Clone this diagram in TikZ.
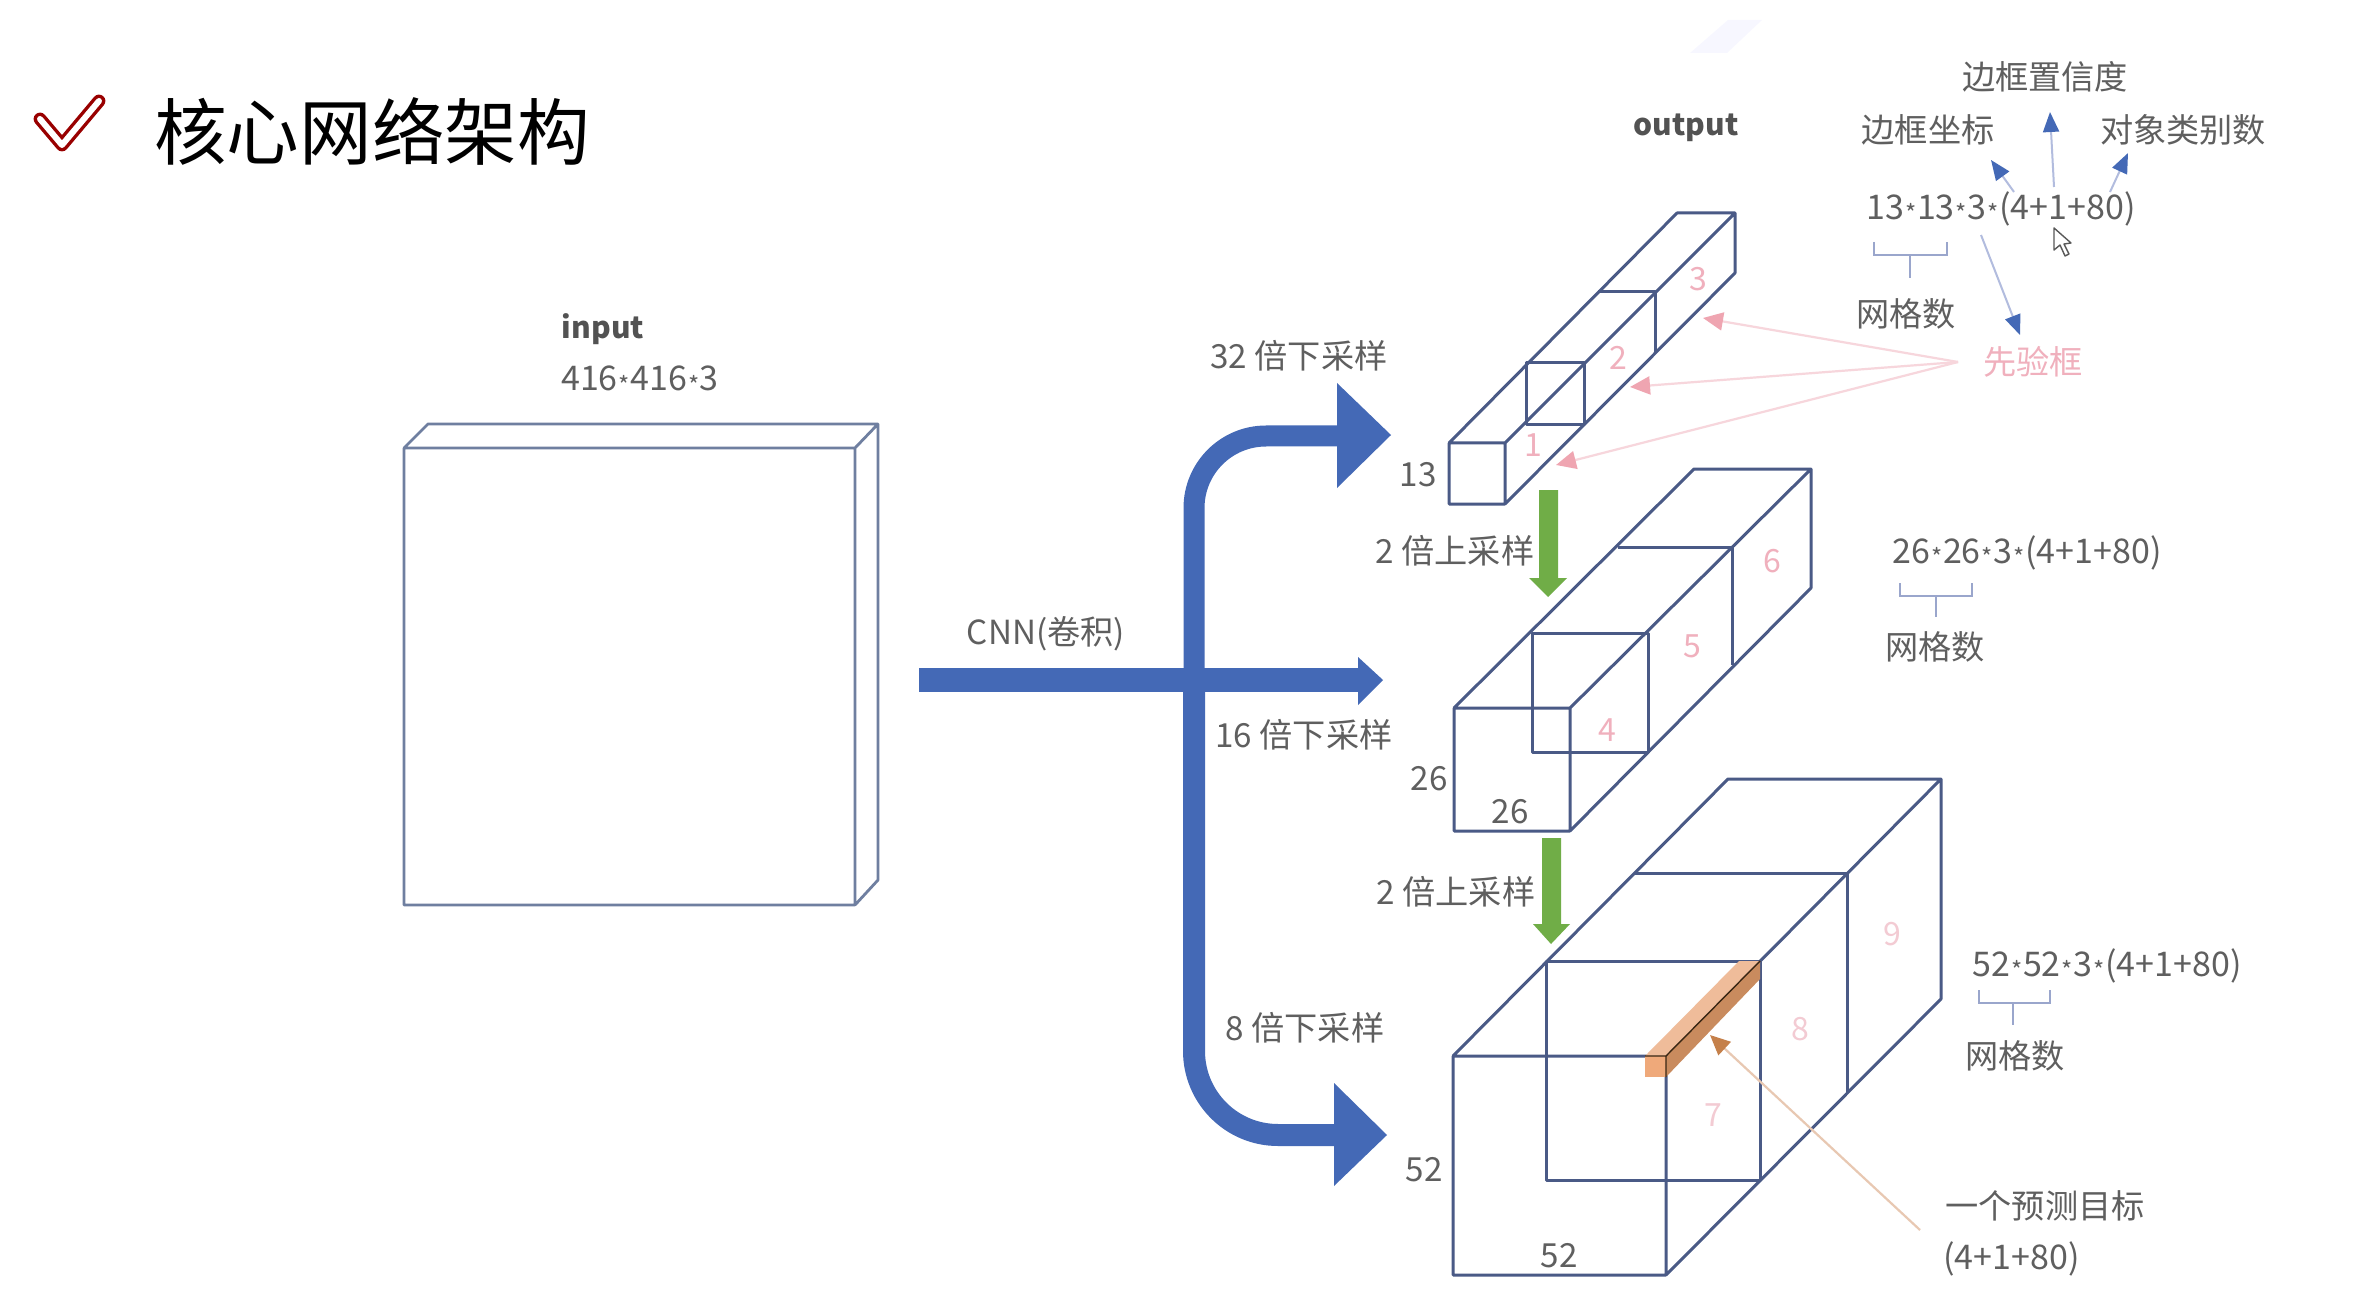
\documentclass[tikz,border=0pt]{standalone}
\usepackage{fontspec}
\setmainfont{Noto Sans CJK SC}
\usetikzlibrary{arrows.meta}
\definecolor{boxline}{HTML}{4A5A86}
\definecolor{inline}{HTML}{6F7FA0}
\definecolor{bigblue}{HTML}{4469B6}
\definecolor{thinblue}{HTML}{B2BCDE}
\definecolor{tipblue}{HTML}{4469B6}
\definecolor{leaf}{HTML}{70AD47}
\definecolor{labelgray}{HTML}{5F5F5F}
\definecolor{pinkline}{HTML}{F7D6DC}
\definecolor{pinktip}{HTML}{EFA5B1}
\definecolor{pinktext}{HTML}{F0B0BD}
\definecolor{palepink}{HTML}{F3CBD3}
\definecolor{brace}{HTML}{9AA6CC}
\definecolor{orangeline}{HTML}{E8C8B2}
\definecolor{orangetip}{HTML}{C5804A}
\definecolor{orangefront}{HTML}{EFA97A}
\definecolor{orangetop}{HTML}{EFBC9A}
\definecolor{orangeside}{HTML}{C98B5E}
\newcommand{\mstar}{\kern0.5pt\raisebox{-1.7pt}{\fontsize{12}{12}\selectfont *}\kern0.3pt}
\tikzset{
  edge/.style={draw=boxline,line width=1.5pt,line join=round},
  thinedge/.style={draw=inline,line width=1.4pt,line join=round},
  lbl/.style={inner sep=0pt,text=labelgray,font=\fontsize{16.6}{18}\selectfont},
  formula/.style={inner sep=0pt,text=labelgray,font=\fontsize{17}{18}\selectfont},
  strong/.style={inner sep=0pt,text=black!68,font=\fontsize{15}{18}\selectfont\bfseries},
  pinknum/.style={inner sep=0pt,text=pinktext,font=\fontsize{16}{18}\selectfont},
  palenum/.style={inner sep=0pt,text=palepink,font=\fontsize{16}{18}\selectfont},
  thinarrow/.style={draw=thinblue,line width=1pt,-{Triangle[length=10pt,width=8pt,color=tipblue]}},
  pinkarrow/.style={draw=pinkline,line width=1.1pt,-{Triangle[length=10pt,width=9pt,color=pinktip]}},
  bracket/.style={draw=brace,line width=0.9pt},
  flow/.style={draw=bigblue,line cap=butt},
  head/.style={fill=bigblue},
  uparrow/.style={fill=leaf},
}
\begin{document}
\begin{tikzpicture}[x=0.5pt,y=-0.5pt]
\useasboundingbox (0,0) rectangle (2366,1310);
\fill[white] (0,0) rectangle (2366,1310);
\fill[blue!50!white,opacity=0.06] (1690,53) -- (1727,53) -- (1762,20) -- (1728,20) -- cycle;

% title
\coordinate (ca) at (40,119); \coordinate (cb) at (62,145); \coordinate (cc) at (99,101);
\draw[draw=red!60!black,line width=6.4pt,line cap=round,line join=round] (ca) -- (cb) -- (cc);
\draw[draw=white,line width=3pt,line cap=round,line join=round] (ca) -- (cb) -- (cc);
\node[inner sep=0pt,text=black,font=\fontsize{36.3}{40}\selectfont] (title) at (372,131) {核心网络架构};

% input
\node[strong] (inp) at (603,329) {input};
\node[formula] (insize) at (640,380) {416\mstar416\mstar3};
\coordinate (iA) at (404,448); \coordinate (iB) at (855,448); \coordinate (iC) at (855,905); \coordinate (iD) at (404,905);
\coordinate (iE) at (428,424); \coordinate (iF) at (878,424); \coordinate (iG) at (878,880);
\draw[thinedge] (iA) -- (iB) -- (iC) -- (iD) -- cycle (iA) -- (iE) -- (iF) -- (iG) -- (iC) (iB) -- (iF);

% big blue arrows
\coordinate (ta) at (1340,436); \coordinate (tb) at (1194,436); \coordinate (tc) at (1194,680);
\coordinate (bb) at (1194,1135); \coordinate (bc) at (1337,1135);
\draw[flow,line width=10.5pt,rounded corners=36pt] (ta) -- (tb) -- (tc);
\draw[flow,line width=11pt,rounded corners=42pt] (tc) -- (bb) -- (bc);
\fill[head] (1337,383) -- (1391,435) -- (1337,488) -- cycle;
\fill[head] (1334,1083) -- (1387,1135) -- (1334,1186) -- cycle;
\coordinate (ha) at (919,680); \coordinate (hb) at (1360,680);
\draw[flow,line width=12pt] (ha) -- (hb);
\fill[head] (1358,657) -- (1383,680) -- (1358,705) -- cycle;

% green arrows
\fill[uparrow] (1539,490) -- (1558,490) -- (1558,578) -- (1567,578) -- (1548,597) -- (1529,578) -- (1539,578) -- cycle;
\fill[uparrow] (1542,838) -- (1561,838) -- (1561,924) -- (1570,924) -- (1551,944) -- (1533,924) -- (1542,924) -- cycle;

% box 1
\coordinate (a1) at (1449,443); \coordinate (a2) at (1505,443); \coordinate (a3) at (1505,504); \coordinate (a4) at (1449,504);
\coordinate (a5) at (1677,213); \coordinate (a6) at (1735,213); \coordinate (a7) at (1735,273);
\draw[edge] (a1) -- (a2) -- (a3) -- (a4) -- cycle (a1) -- (a5) -- (a6) -- (a7) -- (a3) (a2) -- (a6);
\coordinate (a8) at (1598,292); \coordinate (a9) at (1655,292); \coordinate (a10) at (1655,352);
\draw[edge] (a8) -- (a9) -- (a10);
\coordinate (a11) at (1526,363); \coordinate (a12) at (1584,363); \coordinate (a13) at (1584,425); \coordinate (a14) at (1526,425);
\draw[edge] (a11) -- (a12) -- (a13) -- (a14) -- cycle;

% box 2
\coordinate (b1) at (1454,708); \coordinate (b2) at (1570,708); \coordinate (b3) at (1570,831); \coordinate (b4) at (1454,831);
\coordinate (b5) at (1694,469); \coordinate (b6) at (1811,469); \coordinate (b7) at (1811,588);
\draw[edge] (b1) -- (b2) -- (b3) -- (b4) -- cycle (b1) -- (b5) -- (b6) -- (b7) -- (b3) (b2) -- (b6);
\coordinate (b8) at (1618,547); \coordinate (b9) at (1732,547); \coordinate (b10) at (1732,665);
\draw[edge] (b8) -- (b9) -- (b10);
\coordinate (b11) at (1532,633); \coordinate (b12) at (1648,633); \coordinate (b13) at (1648,752); \coordinate (b14) at (1532,752);
\draw[edge] (b11) -- (b12) -- (b13) -- (b14) -- cycle;

% box 3
\coordinate (c1) at (1453,1056); \coordinate (c2) at (1666,1056); \coordinate (c3) at (1666,1275); \coordinate (c4) at (1453,1275);
\coordinate (c5) at (1728,779); \coordinate (c6) at (1941,779); \coordinate (c7) at (1941,999);
\draw[edge] (c1) -- (c2) -- (c3) -- (c4) -- cycle (c1) -- (c5) -- (c6) -- (c7) -- (c3) (c2) -- (c6);
\coordinate (c8) at (1635,873); \coordinate (c9) at (1847,873); \coordinate (c10) at (1847,1092);
\draw[edge] (c8) -- (c9) -- (c10);
\coordinate (c11) at (1546,961); \coordinate (c12) at (1760,961); \coordinate (c13) at (1760,1180); \coordinate (c14) at (1546,1180);
\draw[edge] (c11) -- (c12) -- (c13) -- (c14) -- cycle;

% orange target
\fill[orangefront] (1645,1056) -- (1666,1056) -- (1666,1077) -- (1645,1077) -- cycle;
\fill[orangetop] (1645,1056) -- (1666,1056) -- (1760,961) -- (1739,961) -- cycle;
\fill[orangeside] (1666,1056) -- (1760,961) -- (1760,979) -- (1666,1077) -- cycle;
\draw[draw=black!70!brown,line width=0.7pt] (1645,1056) -- (1666,1056) -- (1760,961) (1666,1056) -- (1666,1077);

% number labels
\node[pinknum] (n1) at (1533,445) {1};
\node[pinknum] (n2) at (1618,358) {2};
\node[pinknum] (n3) at (1698,279) {3};
\node[pinknum] (n4) at (1607,730) {4};
\node[pinknum] (n5) at (1692,646) {5};
\node[pinknum] (n6) at (1772,561) {6};
\node[palenum] (n7) at (1713,1115) {7};
\node[palenum] (n8) at (1800,1029) {8};
\node[palenum] (n9) at (1892,934) {9};

% labels
\node[lbl] (l32) at (1299,356) {32 倍下采样};
\node[lbl] (cnn) at (1046,634) {CNN(卷积)};
\node[lbl] (l16) at (1304,735) {16 倍下采样};
\node[lbl] (l8) at (1305,1028) {8 倍下采样};
\node[lbl] (up1) at (1455,551) {2 倍上采样};
\node[lbl] (up2) at (1456,892) {2 倍上采样};
\node[lbl] (s13) at (1418,475) {13};
\node[lbl] (s26a) at (1429,779) {26};
\node[lbl] (s26b) at (1510,812) {26};
\node[lbl] (s52a) at (1424,1170) {52};
\node[lbl] (s52b) at (1559,1256) {52};
\node[strong] (out) at (1686,128) {output};
\node[lbl] (conf) at (2045,77) {边框置信度};
\node[lbl] (coord) at (1928,130) {边框坐标};
\node[lbl] (cls) at (2183,130) {对象类别数};
\node[formula] (f13) at (2001,209) {13\mstar13\mstar3\mstar(4+1+80)};
\node[formula] (f26) at (2027,553) {26\mstar26\mstar3\mstar(4+1+80)};
\node[formula] (f52) at (2107,966) {52\mstar52\mstar3\mstar(4+1+80)};
\node[lbl] (g13) at (1906,314) {网格数};
\node[lbl] (g26) at (1935,647) {网格数};
\node[lbl] (g52) at (2015,1056) {网格数};
\node[inner sep=0pt,text=pinktext,font=\fontsize{16.6}{18}\selectfont] (prior) at (2033,362) {先验框};
\node[lbl,anchor=west] (tgt) at (1945,1206) {一个预测目标};
\node[formula,anchor=west] (tgtf) at (1943,1259) {(4+1+80)};

% thin arrows
\coordinate (p1) at (2014,192); \coordinate (p2) at (1991,160);
\coordinate (p3) at (2054,187); \coordinate (p4) at (2050,112);
\coordinate (p5) at (2110,192); \coordinate (p6) at (2128,153);
\coordinate (p7) at (1981,235); \coordinate (p8) at (2020,335);
\draw[thinarrow] (p1) -- (p2);
\draw[thinarrow] (p3) -- (p4);
\draw[thinarrow] (p5) -- (p6);
\draw[thinarrow] (p7) -- (p8);

% pink arrows
\coordinate (pk) at (1958,362);
\coordinate (pk1) at (1703,318); \coordinate (pk2) at (1630,387); \coordinate (pk3) at (1556,465);
\draw[pinkarrow] (pk) -- (pk1);
\draw[pinkarrow] (pk) -- (pk2);
\draw[pinkarrow] (pk) -- (pk3);

% orange arrow
\coordinate (oa) at (1920,1230); \coordinate (ob) at (1710,1035);
\draw[draw=orangeline,line width=1.1pt,-{Triangle[length=10pt,width=9pt,color=orangetip]}] (oa) -- (ob);

% brackets
\draw[bracket] (1874,242) -- (1874,255) -- (1947,255) -- (1947,242) (1910,255) -- (1910,278);
\draw[bracket] (1900,583) -- (1900,596) -- (1972,596) -- (1972,583) (1936,596) -- (1936,617);
\draw[bracket] (1979,990) -- (1979,1003) -- (2050,1003) -- (2050,990) (2013,1003) -- (2013,1025);

% cursor
\draw[draw=black!65,fill=white,line width=0.7pt,line join=round] (2054,228) -- (2054,250) -- (2060,245) -- (2065,256) -- (2069,254) -- (2064,244) -- (2071,243) -- cycle;
\end{tikzpicture}
\end{document}
